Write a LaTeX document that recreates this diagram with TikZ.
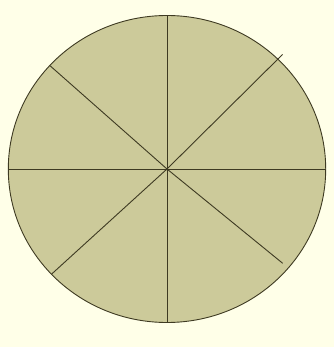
\documentclass[tikz,border=0pt]{standalone}
\begin{document}
\begin{tikzpicture}[x=1pt,y=-1pt,
  spoke/.style={draw=spokecol,line width=0.9pt}]
\definecolor{bgcol}{RGB}{255,255,232}
\definecolor{fillcol}{RGB}{204,202,154}
\definecolor{spokecol}{RGB}{62,58,34}
\fill[bgcol] (0,0) rectangle (334,347);
\useasboundingbox (0,0) rectangle (334,347);
\coordinate (c) at (167,169);
\draw[fill=fillcol,draw=spokecol,line width=0.9pt] (c) ellipse [x radius=158.7,y radius=153.5];
\coordinate (n) at (167,15.5);
\coordinate (s) at (167,322.5);
\coordinate (w) at (8.3,169);
\coordinate (e) at (325.7,169);
\coordinate (nw) at (50,65.7);
\coordinate (se) at (282.7,263.3);
\coordinate (ne) at (282.5,54.5);
\coordinate (sw) at (51.7,274);
\draw[spoke] (n) -- (s);
\draw[spoke] (w) -- (e);
\draw[spoke] (nw) -- (c) -- (se);
\draw[spoke] (ne) -- (c) -- (sw);
\end{tikzpicture}
\end{document}
